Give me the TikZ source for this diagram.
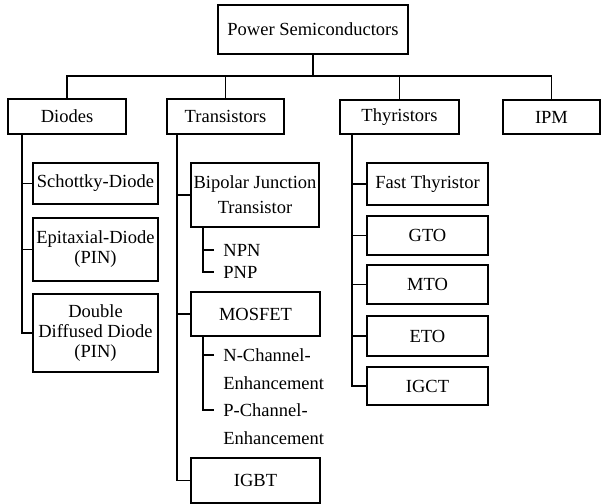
\documentclass[tikz,border=0pt]{standalone}
\usepackage{fontspec}
\setmainfont{Liberation Serif}
\usepackage{tikz}

\tikzset{
  box/.style={draw, line width=0.8pt, inner sep=0pt, align=center, font=\fontsize{9.25}{10}\selectfont},
  item/.style={anchor=west, inner sep=0pt, font=\fontsize{9.25}{10}\selectfont},
  link/.style={line width=0.8pt}
}

\begin{document}
\begin{tikzpicture}[x=0.5pt, y=-0.5pt]
		\useasboundingbox (0,0) rectangle (601,504);

		% racine
		\node[box, minimum width=95pt, minimum height=24.5pt] (power) at (313,29.5) {Power Semiconductors};

		% familles
		\node[box, minimum width=59pt, minimum height=17.5pt] (diodes) at (67,116.5) {Diodes};
		\node[box, minimum width=58.5pt, minimum height=17.5pt] (trans) at (225.5,116.5) {Transistors};
		\node[box, minimum width=59.5pt, minimum height=17pt] (thyr) at (399.5,117) {Thyristors};
		\node[box, minimum width=48.5pt, minimum height=17pt] (ipm) at (551.5,117) {IPM};

		% diodes
		\node[box, minimum width=62.5pt, minimum height=20.5pt] (schottky) at (95.5,183.5) {Schottky-Diode};
		\node[box, minimum width=62.5pt, minimum height=31.5pt] (epi) at (95.5,249.5) {Epitaxial-Diode\\(PIN)};
		\node[box, minimum width=62.5pt, minimum height=39pt] (double) at (95.5,333) {Double\\Diffused Diode\\(PIN)};

		% transistors
		\node[box, minimum width=64pt, minimum height=32pt] (bjt) at (255,195) {Bipolar Junction\\[2.5pt]Transistor};
		\node[item] (npn) at (223,250) {NPN};
		\node[item] (pnp) at (223,272) {PNP};
		\node[box, minimum width=64.5pt, minimum height=22pt] (mosfet) at (255.5,314) {MOSFET};
		\node[item] (nch) at (223,355) {N-Channel-};
		\node[item] (nenh) at (223,383) {Enhancement};
		\node[item] (pch) at (223,410) {P-Channel-};
		\node[item] (penh) at (223,438) {Enhancement};
		\node[box, minimum width=64.5pt, minimum height=22.5pt] (igbt) at (255.5,480.5) {IGBT};

		% thyristors
		\node[box, minimum width=60.5pt, minimum height=21pt] (fast) at (427.5,184) {Fast Thyristor};
		\node[box, minimum width=60.5pt, minimum height=19.5pt] (gto) at (427.5,235.5) {GTO};
		\node[box, minimum width=60.5pt, minimum height=19.5pt] (mto) at (427.5,284.5) {MTO};
		\node[box, minimum width=60.5pt, minimum height=20pt] (eto) at (427.5,336) {ETO};
		\node[box, minimum width=60.5pt, minimum height=19pt] (igct) at (427.5,386) {IGCT};

		% bus du haut
		\coordinate (bus) at (313,76);
		\draw[link] (power) -- (bus);
		\draw[link] (diodes) |- (bus) -| (ipm);
		\draw[link] (trans) -- (trans |- bus);
		\draw[link] (thyr) -- (thyr |- bus);

		% tronc diodes
		\coordinate (dtrunk) at ([xshift=7.5pt]diodes.south west);
		\draw[link] (dtrunk) |- (double);
		\draw[link] (schottky) -- (schottky -| dtrunk);
		\draw[link] (epi) -- (epi -| dtrunk);

		% tronc transistors
		\coordinate (ttrunk) at ([xshift=5.5pt]trans.south west);
		\draw[link] (ttrunk) |- (igbt);
		\draw[link] (bjt) -- (bjt -| ttrunk);
		\draw[link] (mosfet) -- (mosfet -| ttrunk);

		% npn pnp
		\coordinate (btrunk) at ([xshift=6.5pt]bjt.south west);
		\draw[link] (btrunk) |- ([xshift=-4.5pt]pnp.west);
		\draw[link] ([xshift=-4.5pt]npn.west) -- (npn.west -| btrunk);

		% canaux mosfet
		\coordinate (mtrunk) at ([xshift=6.5pt]mosfet.south west);
		\draw[link] (mtrunk) |- ([xshift=-4.5pt]pch.west);
		\draw[link] ([xshift=-4.5pt]nch.west) -- (nch.west -| mtrunk);

		% tronc thyristors
		\coordinate (htrunk) at ([xshift=6.5pt]thyr.south west);
		\draw[link] (htrunk) |- (igct);
		\draw[link] (fast) -- (fast -| htrunk);
		\draw[link] (gto) -- (gto -| htrunk);
		\draw[link] (mto) -- (mto -| htrunk);
		\draw[link] (eto) -- (eto -| htrunk);

\end{tikzpicture}
\end{document}
